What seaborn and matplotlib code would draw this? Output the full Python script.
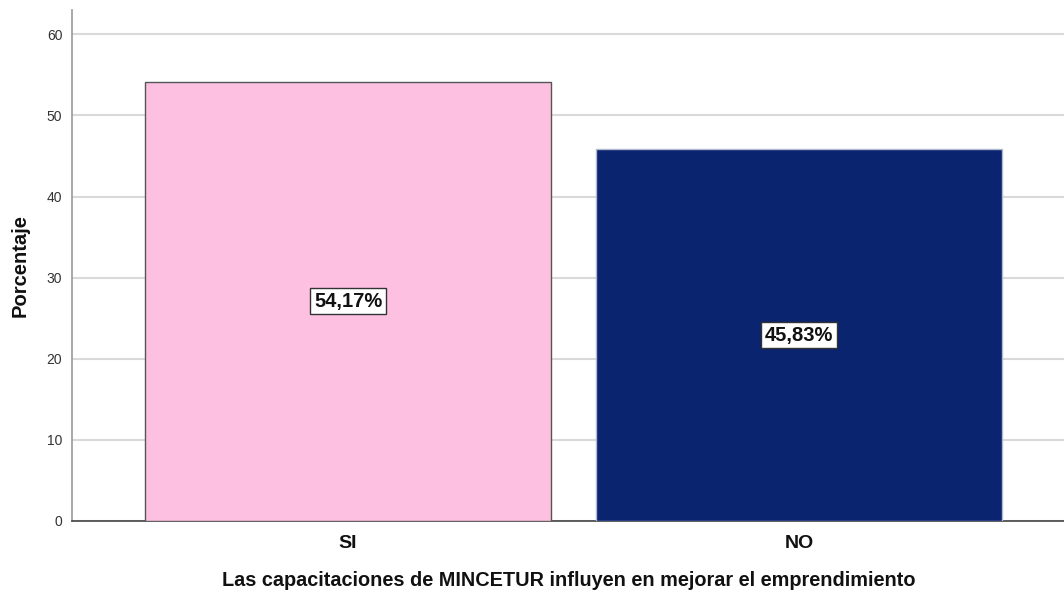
import matplotlib
matplotlib.use("Agg")
import matplotlib.pyplot as plt
import seaborn as sns
import pandas as pd

categories = ["SI", "NO"]
values = [54.17, 45.83]
bar_labels = ["54,17%", "45,83%"]
colors = ["#FEC0E0", "#0A2470"]
edge_colors = ["#555555", "#B0B8D0"]
yticks = [0, 10, 20, 30, 40, 50, 60]

sns.set_theme(style="white")
plt.rcParams['font.family'] = ['Liberation Sans', 'DejaVu Sans']

df = pd.DataFrame({"cat": categories, "val": values})

fig = plt.figure(figsize=(10.64, 5.95), dpi=100)
ax = fig.add_axes([72/1064, 74/595, 1 - 72/1064 + 0.002, (521-10)/595])

sns.barplot(data=df, x="cat", y="val", hue="cat", palette=colors, order=categories,
            hue_order=categories, width=0.9, legend=False, ax=ax, zorder=3, saturation=1)

for patch, ec in zip(ax.patches, edge_colors):
    patch.set_edgecolor(ec)
    patch.set_linewidth(1.0)

ax.set_ylim(0, 63.0)
ax.set_xlim(-0.612, 1.592)
ax.set_yticks(yticks)
ax.set_yticklabels([str(t) for t in yticks], fontsize=10, color="#333333")
ax.yaxis.grid(True, color="#D9D9D9", linewidth=1.5, zorder=0)
ax.set_axisbelow(True)
ax.tick_params(axis="y", length=0, pad=7)
ax.tick_params(axis="x", length=0, pad=10)
for lab in ax.get_xticklabels():
    lab.set_fontsize(14)
    lab.set_fontweight("bold")
    lab.set_color("#111111")

for s in ["top", "right"]:
    ax.spines[s].set_visible(False)
ax.spines["left"].set_color("#999999")
ax.spines["left"].set_linewidth(1.2)
ax.spines["bottom"].set_color("#444444")
ax.spines["bottom"].set_linewidth(1.2)

for i, (v, lab) in enumerate(zip(values, bar_labels)):
    ax.text(i, v / 2, lab, ha="center", va="center", fontsize=14.5, fontweight="bold",
            color="#111111", zorder=5,
            bbox=dict(boxstyle="square,pad=0.18", facecolor="white", edgecolor="#333333", linewidth=1.0))

ax.set_xlabel("Las capacitaciones de MINCETUR influyen en mejorar el emprendimiento",
              fontsize=14.3, fontweight="bold", color="#111111", labelpad=14)
ax.set_ylabel("Porcentaje", fontsize=14.5, fontweight="bold", color="#111111", labelpad=12)
ax.yaxis.set_label_coords(-(72 - 20) / 992, 0.5)
ax.xaxis.set_label_coords(0.5, -(580 - 521) / 511)
ax.xaxis.label.set_va("center")
ax.yaxis.label.set_va("center")

fig.savefig("out.png", dpi=100)
